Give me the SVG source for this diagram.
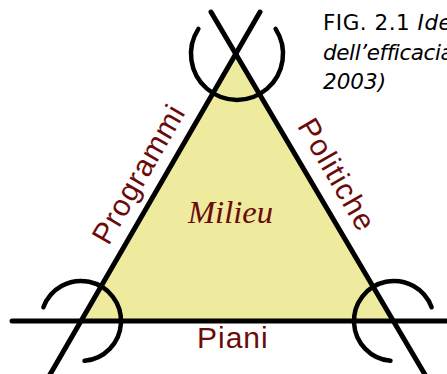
<svg xmlns="http://www.w3.org/2000/svg" width="447" height="374" viewBox="0 0 447 374">
<style>
.ln{stroke:#000;stroke-width:5;fill:none;stroke-linecap:round}
.arc{stroke:#000;stroke-width:4.5;fill:none;stroke-linecap:round}
.lbl{font-family:"Liberation Sans",Arial,sans-serif;font-size:30px;fill:#6b0a0a}
.cap{font-family:"DejaVu Sans",Verdana,sans-serif;font-size:21.5px;fill:#000}
</style>
<rect width="447" height="374" fill="#fff"/>
<g id="milieu">
<polygon points="81,321 236,53 394,321" fill="#eeea9e"/>
<text x="188" y="223" font-family="'Liberation Serif','Times New Roman',serif" font-style="italic" font-size="31" fill="#6b0a0a" textLength="85" lengthAdjust="spacingAndGlyphs">Milieu</text>
</g>
<g id="connectors">
<line class="ln" x1="48" y1="378" x2="260" y2="12"/>
<line class="ln" x1="427" y1="378" x2="211" y2="12"/>
<line class="ln" x1="12" y1="321" x2="460" y2="321"/>
</g>
<g id="vertex-top">
<path class="arc" d="M 275.6,28.9 A 46 46 0 1 1 198.4,28.9"/>
</g>
<g id="vertex-left">
<path class="arc" d="M 43.4,307.3 A 40 40 0 1 1 84.5,360.8"/>
</g>
<g id="vertex-right">
<path class="arc" d="M 390.5,360.8 A 40 40 0 1 1 431.6,307.3"/>
</g>
<g id="label-programmi">
<text class="lbl" transform="translate(147.4,179.2) rotate(-60)" text-anchor="middle" letter-spacing="1">Programmi</text>
</g>
<g id="label-politiche">
<text class="lbl" transform="translate(328.1,179.9) rotate(60)" text-anchor="middle" letter-spacing="1.3">Politiche</text>
</g>
<g id="label-piani">
<text class="lbl" x="197" y="348" font-size="26" letter-spacing="1">Piani</text>
</g>
<g id="caption">
<text class="cap" x="323" y="30" letter-spacing="0.5">FIG. 2.1 <tspan font-style="italic">Ide</tspan></text>
<text class="cap" x="323" y="60" font-style="italic" letter-spacing="-0.4">dell’efficacia</text>
<text class="cap" x="323" y="89" font-style="italic">2003)</text>
</g>
</svg>
